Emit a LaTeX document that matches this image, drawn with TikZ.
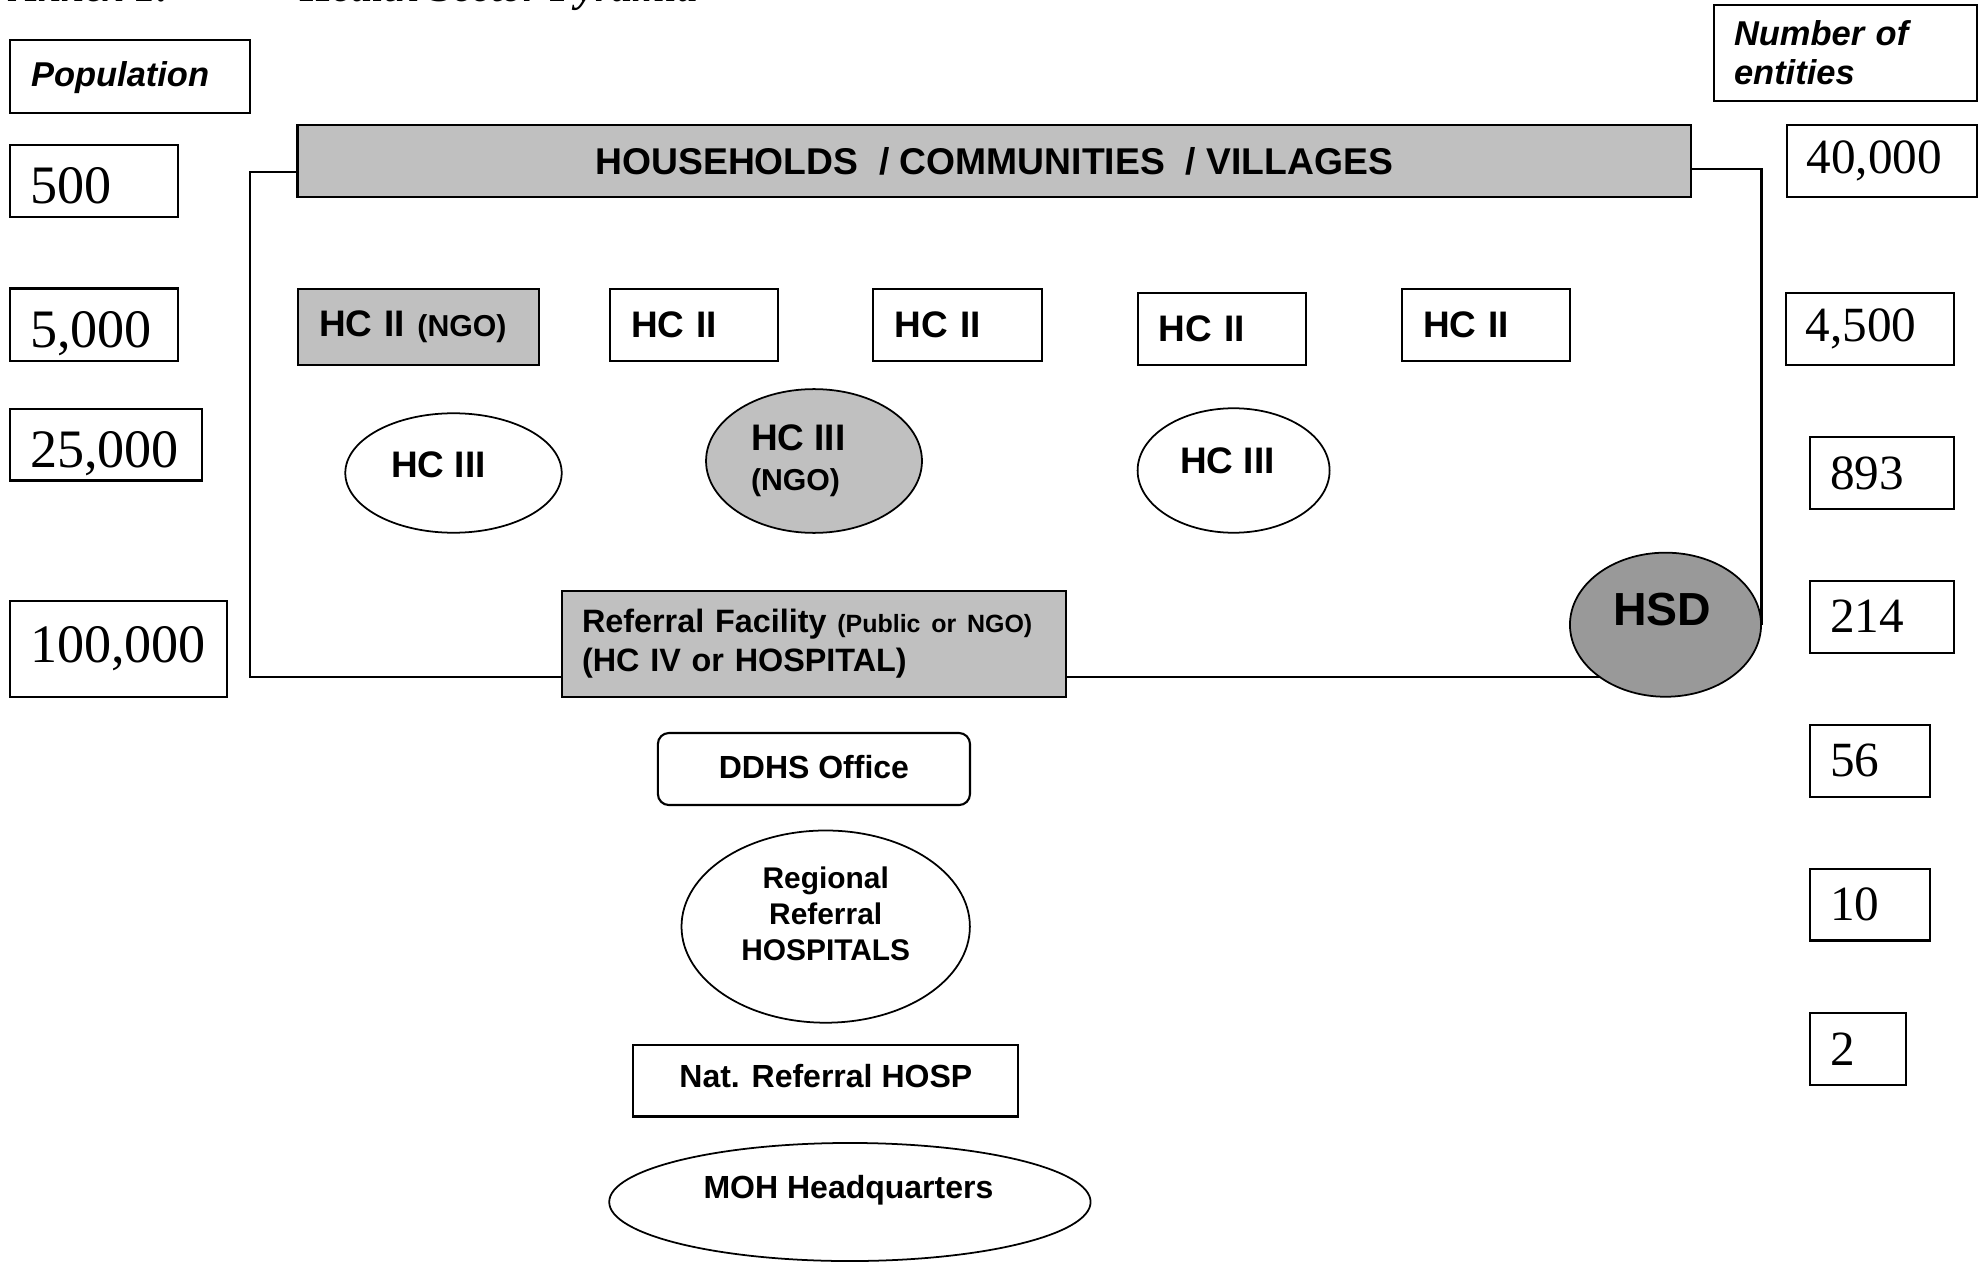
\documentclass[tikz,border=0pt]{standalone}
\usepackage{fontspec}
\setmainfont{Liberation Serif}
\newfontfamily\arial{Liberation Sans}
\usetikzlibrary{shapes.geometric,backgrounds}
\definecolor{hgray}{HTML}{C0C0C0}
\definecolor{dgray}{HTML}{999999}
\begin{document}
\begin{tikzpicture}[x=0.01cm,y=-0.01cm,
  every node/.style={inner sep=0pt, outer sep=0pt},
  rbox/.style={draw, line width=0.6pt, rectangle, anchor=north west},
  gbox/.style={rbox, fill=hgray},
  lab/.style={font=\arial\bfseries\itshape\fontsize{9.8}{11.1}\selectfont, align=left},
  numL/.style={rbox, font=\fontsize{15.4}{18}\selectfont, align=left, inner xsep=0.2cm},
  low/.style={text height=13pt, text depth=0pt},
  numR/.style={rbox, font=\fontsize{14}{17}\selectfont, align=left, inner xsep=0.2cm},
  hc/.style={rbox, font=\arial\bfseries\fontsize{10.5}{13}\selectfont, align=left, inner xsep=0.21cm},
  ell/.style={draw, ellipse, line width=0.5pt, inner sep=0pt},
  txt/.style={font=\arial\bfseries\fontsize{10.5}{13}\selectfont},
  smalltxt/.style={font=\arial\bfseries\fontsize{9.1}{11}\selectfont},
  titletxt/.style={font=\bfseries\itshape\fontsize{12}{14}\selectfont},
  conn/.style={line width=0.6pt}
]
\useasboundingbox (0,0) rectangle (1979,1264);
\clip (0,0) rectangle (1979,1264);

% title (cut off at the top edge, as in the original)
\node[titletxt, anchor=base west] (ann) at (10,1.5) {Annex 1:};
\node[titletxt, anchor=base west] (ttl) at (300,1.5) {Health Sector Pyramid};

% headers
\node[rbox, lab, minimum width=2.40cm, minimum height=0.727cm, text width=1.98cm, inner xsep=0.21cm, text depth=1.5pt] (pop) at (10,40) {Population};
\node[rbox, lab, minimum width=2.627cm, minimum height=0.957cm, text width=2.227cm, inner xsep=0.2cm] (ent) at (1714,5) {Number of\\entities};

% population column
\node[numL, low, minimum width=1.68cm, minimum height=0.72cm, text width=1.28cm] (p500) at (10,145) {500};
\node[numL, low, minimum width=1.68cm, minimum height=0.722cm, text width=1.28cm] (p5000) at (10,288.5) {5,000};
\node[numL, low, minimum width=1.92cm, minimum height=0.712cm, text width=1.52cm] (p25000) at (10,409.3) {25,000};
\node[numL, minimum width=2.165cm, minimum height=0.957cm, text width=1.765cm] (p100000) at (10,601) {100,000};

% entities column
\node[numR, minimum width=1.903cm, minimum height=0.717cm, text width=1.503cm] (n40000) at (1786.7,125) {40,000};
\node[numR, minimum width=1.682cm, minimum height=0.723cm, text width=1.282cm] (n4500) at (1785.8,292.7) {4,500};
\node[numR, minimum width=1.44cm, minimum height=0.723cm, text width=1.04cm] (n893) at (1810,437) {893};
\node[numR, minimum width=1.44cm, minimum height=0.719cm, text width=1.04cm] (n214) at (1810,580.7) {214};
\node[numR, minimum width=1.20cm, minimum height=0.718cm, text width=0.80cm] (n56) at (1810,725) {56};
\node[numR, minimum width=1.20cm, minimum height=0.718cm, text width=0.80cm] (n10) at (1810,868.7) {10};
\node[numR, minimum width=0.96cm, minimum height=0.721cm, text width=0.56cm] (n2) at (1810,1012.9) {2};

% households
\node[gbox, font=\arial\bfseries\fontsize{10.6}{13}\selectfont, minimum width=13.925cm, minimum height=0.72cm] (hh) at (297.5,125) {HOUSEHOLDS\ \ / COMMUNITIES\ \ / VILLAGES};

% HC II row
\node[hc, fill=hgray, minimum width=2.407cm, minimum height=0.76cm, text width=1.987cm] (hc2n) at (298,289) {HC II {\fontsize{8.6}{10}\selectfont(NGO)}};
\node[hc, minimum width=1.68cm, minimum height=0.717cm, text width=1.26cm] (hc2a) at (610,289) {HC II};
\node[hc, minimum width=1.683cm, minimum height=0.717cm, text width=1.263cm] (hc2b) at (873.4,289) {HC II};
\node[hc, minimum width=1.683cm, minimum height=0.723cm, text width=1.263cm] (hc2c) at (1137.7,292.7) {HC II};
\node[hc, minimum width=1.675cm, minimum height=0.717cm, text width=1.255cm] (hc2d) at (1402,289) {HC II};

% HC III row
\node[ell, minimum width=2.163cm, minimum height=1.194cm] (hc3a) at (453.5,473) {};
\node[ell, fill=hgray, minimum width=2.158cm, minimum height=1.437cm] (hc3n) at (814,461) {};
\node[ell, minimum width=1.919cm, minimum height=1.244cm] (hc3b) at (1233.6,470.5) {};
\node[txt, anchor=base] (hc3at) at (438.5,477) {HC III};
\node[txt, anchor=base west] (hc3nt) at (751,451) {HC III};
\node[anchor=base west, font=\arial\bfseries\fontsize{8.6}{10}\selectfont] (hc3nt2) at (751,490) {(NGO)};
\node[txt, anchor=base] (hc3bt) at (1227.4,474) {HC III};

% referral facility and HSD
\node[gbox, font=\arial\bfseries\fontsize{9.2}{11}\selectfont, align=left, inner xsep=0.2cm, minimum width=5.04cm, minimum height=1.06cm, text width=4.64cm] (ref) at (562,590.7) {Referral Facility {\fontsize{7.1}{9}\selectfont(Public or NGO)}\\(HC IV or HOSPITAL)};
\node[ell, fill=dgray, minimum width=1.91cm, minimum height=1.44cm] (hsd) at (1665.5,624.7) {};
\node[anchor=base, font=\arial\bfseries\fontsize{13.2}{16}\selectfont] (hsdt) at (1662,625) {HSD};

% upper levels
\node[rbox, rounded corners=0.11cm, smalltxt, minimum width=3.119cm, minimum height=0.72cm, text depth=1.4pt] (ddhs) at (657.9,733) {DDHS Office};
\node[ell, minimum width=2.882cm, minimum height=1.921cm] (rrh) at (825.7,926.6) {};
\node[align=center, font=\arial\bfseries\fontsize{8.5}{10.2}\selectfont] (rrht) at (825.7,914) {Regional\\Referral\\HOSPITALS};
\node[rbox, smalltxt, minimum width=3.846cm, minimum height=0.719cm, text depth=2.8pt] (nrh) at (633.4,1044.6) {Nat. Referral HOSP};
\node[ell, minimum width=4.811cm, minimum height=1.18cm] (moh) at (849.9,1202) {};
\node[smalltxt, anchor=base] (moht) at (848.5,1198) {MOH Headquarters};

% connectors
\coordinate (lc1) at (250,172);
\coordinate (lc2) at (250,676.7);
\coordinate (rc1) at (1761.5,169);
\begin{scope}[on background layer]
\fill[white] (0,0) rectangle (1979,1264);
\draw[conn] (hh.west |- lc1) -- (lc1) -- (lc2) -- (ref.west |- lc2);
\draw[conn] (hh.east |- rc1) -- (rc1) -- (rc1 |- hsd.east);
\draw[conn] (ref.east |- lc2) -- (hsd.center |- lc2);
\end{scope}
\end{tikzpicture}
\end{document}
